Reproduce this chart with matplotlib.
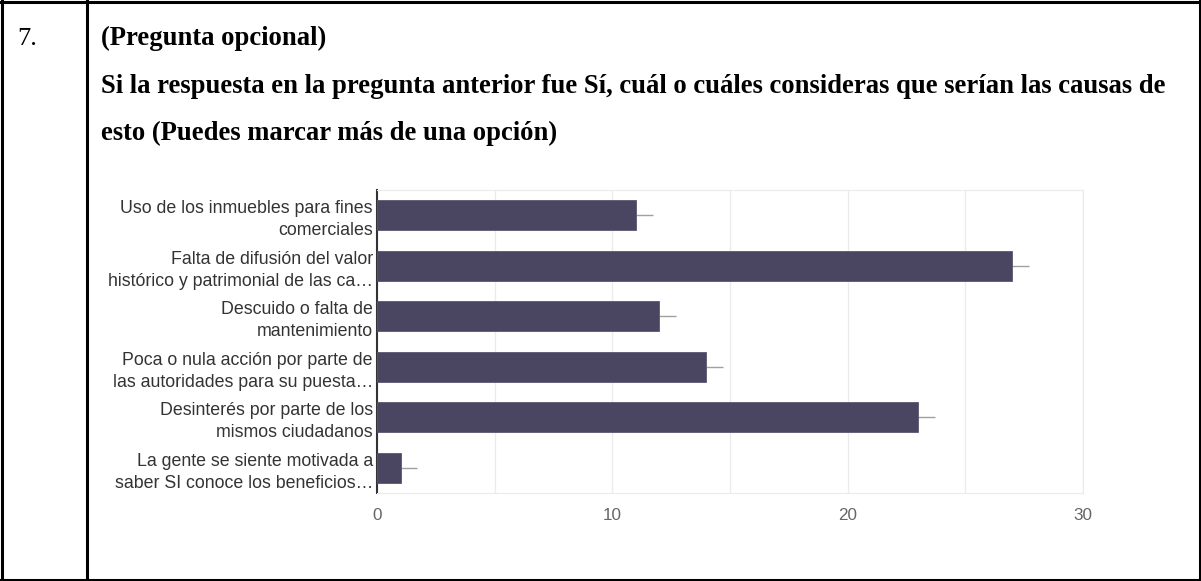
import matplotlib
matplotlib.use("Agg")
import matplotlib.pyplot as plt
from matplotlib.lines import Line2D

# survey answers (Google Forms style bar chart)
causes = [
    "Uso de los inmuebles para fines\ncomerciales",
    "Falta de difusión del valor\nhistórico y patrimonial de las ca…",
    "Descuido o falta de\nmantenimiento",
    "Poca o nula acción por parte de\nlas autoridades para su puesta…",
    "Desinterés por parte de los\nmismos ciudadanos",
    "La gente se siente motivada a\nsaber SI conoce los beneficios…",
]
counts = [11, 27, 12, 14, 23, 1]
x_ticks = [0, 10, 20, 30]

question_num = "7."
question_lines = [
    "(Pregunta opcional)",
    "Si la respuesta en la pregunta anterior fue Sí, cuál o cuáles consideras que serían las causas de",
    "esto (Puedes marcar más de una opción)",
]

W, H = 1201, 581
fig = plt.figure(figsize=(W / 100, H / 100), dpi=100)
fig.patch.set_facecolor("white")

# table borders
def hline(y, x0=0, x1=W, lw=2.2):
    fig.add_artist(Line2D([x0 / W, x1 / W], [1 - y / H, 1 - y / H], color="black", lw=lw))

def vline(x, y0=0, y1=H, lw=2.2):
    fig.add_artist(Line2D([x / W, x / W], [1 - y0 / H, 1 - y1 / H], color="black", lw=lw))

hline(1.5)
hline(579.5)
vline(1.5)
vline(87)
vline(1199.5)

serif = "Liberation Serif"
fig.text(17 / W, 1 - 45 / H, question_num, family=serif, fontsize=19, va="baseline")
for txt, base in zip(question_lines, [45, 93, 140]):
    fig.text(101 / W, 1 - base / H, txt, family=serif, weight="bold", fontsize=19.2, va="baseline")

# chart
ax = fig.add_axes([377 / W, 1 - 493 / H, 706 / W, 303 / H])
y = list(range(len(causes)))
ax.barh(y, counts, height=0.6, color="#4a4560", edgecolor="#5b5670", linewidth=0.6, zorder=3)
ax.errorbar(counts, y, xerr=[[0] * len(counts), [0.72] * len(counts)], fmt="none",
            ecolor="#a0a0a0", elinewidth=1, capsize=0, zorder=2)

ax.set_xlim(0, 30)
ax.set_ylim(len(causes) - 0.5, -0.5)
ax.set_xticks(x_ticks)
ax.set_xticks([5, 15, 25], minor=True)
ax.grid(axis="x", which="both", color="#ebebeb", lw=1, zorder=0)
ax.set_yticks(y)
ax.set_yticklabels(causes, fontsize=12.8, color="#333333", linespacing=1.4, family="Liberation Sans")
ax.tick_params(axis="y", length=0, pad=3)
ax.tick_params(axis="x", which="both", length=0, pad=11, labelsize=12.3, labelcolor="#666666")
for lab in ax.get_xticklabels():
    lab.set_family("Liberation Sans")

for side in ["top", "right", "bottom"]:
    ax.spines[side].set_color("#ebebeb")
ax.spines["left"].set_color("#333333")
ax.spines["left"].set_linewidth(1.5)

fig.savefig("out.png", dpi=100)
